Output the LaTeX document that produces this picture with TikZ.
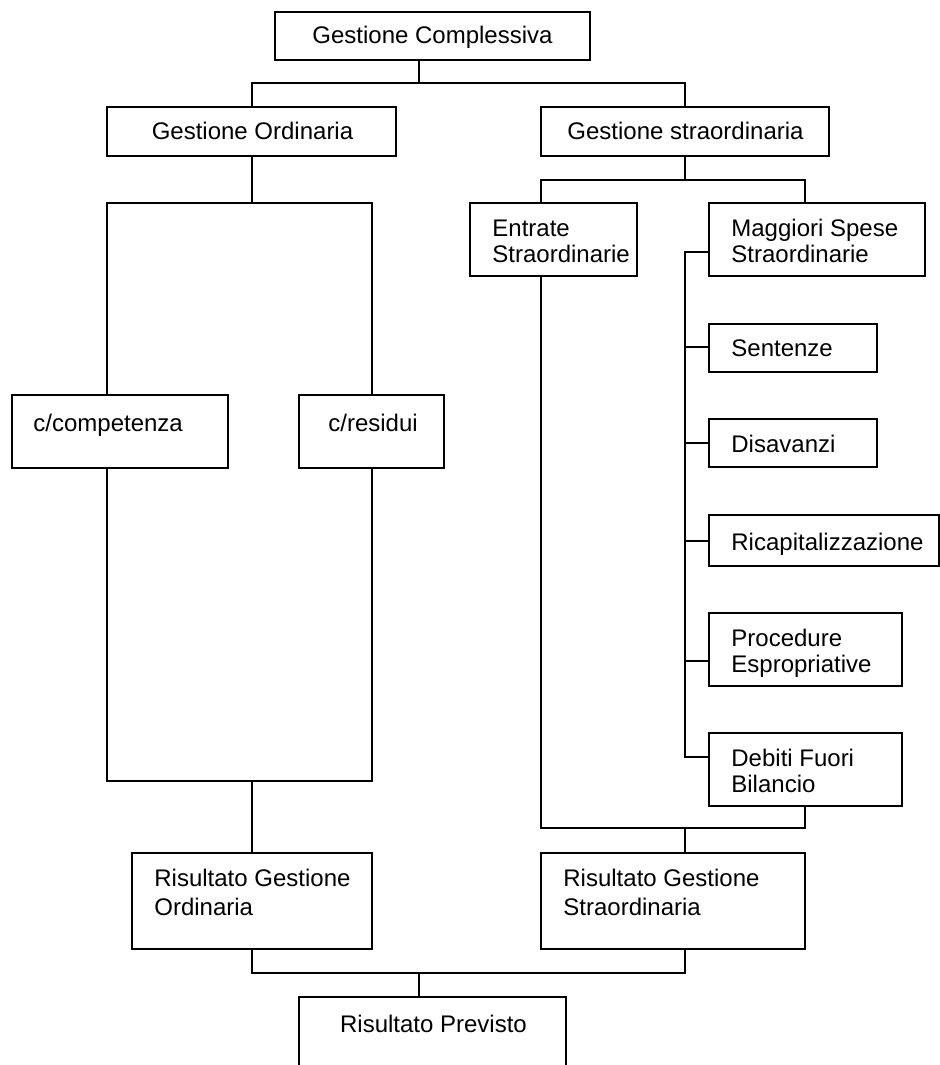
\documentclass[tikz,border=0pt]{standalone}
\usepackage{fontspec}
\setmainfont{Liberation Sans}
\newcommand\mybox[5]{\node[box, minimum width={(#4-#2)*0.5pt}, minimum height={(#5-#3)*0.5pt}] (#1) at ({(#2+#4)/2},{(#3+#5)/2}) {};}
\begin{document}
\begin{tikzpicture}[x=0.5pt,y=-0.5pt,
  box/.style={draw=black, line width=0.65pt, fill=white, inner sep=0pt, outer sep=0pt},
  lbl/.style={anchor=base west, inner sep=0pt, font=\fontsize{12pt}{13pt}\selectfont, align=left},
  lblw/.style={anchor=base west, inner sep=0pt, font=\fontsize{12pt}{14.5pt}\selectfont, align=left},
  lblc/.style={anchor=base, inner sep=0pt, font=\fontsize{12pt}{13pt}\selectfont},
  conn/.style={line width=0.65pt, line cap=rect}]
\useasboundingbox[fill=white] (0,0) rectangle (940,1065);
% boxes
\mybox{gc}{275}{12}{590}{60}
\mybox{go}{107}{107}{396}{156}
\mybox{gs}{541}{107}{829}{156}
\mybox{comp}{12}{395}{228}{468}
\mybox{res}{299}{395}{444}{468}
\mybox{ent}{470}{203}{637}{276}
\mybox{mag}{709}{203}{925}{276}
\mybox{sen}{709}{324}{877}{372}
\mybox{dis}{709}{419}{877}{467}
\mybox{ric}{709}{515}{939}{566}
\mybox{pro}{709}{613}{902}{686}
\mybox{deb}{709}{733}{902}{806}
\mybox{rgo}{132}{853}{372}{949}
\mybox{rgs}{541}{853}{805}{949}
\mybox{rp}{299}{997}{566}{1085}
% junction coordinates
\coordinate (j1) at (419,83);
\coordinate (ja) at (252,83);
\coordinate (jb) at (685,83);
\coordinate (rm) at (252,203);
\coordinate (r1) at (107,203);
\coordinate (r2) at (372,203);
\coordinate (r3) at (372,781);
\coordinate (r4) at (107,781);
\coordinate (rb) at (252,781);
\coordinate (jc) at (685,180);
\coordinate (jd) at (541,180);
\coordinate (je) at (805,180);
\coordinate (jf) at (541,828);
\coordinate (jg) at (805,828);
\coordinate (jh) at (685,828);
\coordinate (s1) at (685,252);
\coordinate (s2) at (685,347);
\coordinate (s3) at (685,443);
\coordinate (s4) at (685,541);
\coordinate (s5) at (685,661);
\coordinate (s6) at (685,757);
\coordinate (k1) at (252,973);
\coordinate (k2) at (685,973);
\coordinate (k3) at (419,973);
% connectors
\draw[conn] (j1 |- gc.south) -- (j1);
\draw[conn] (ja |- go.north) -- (ja) -- (jb) -- (jb |- gs.north);
\draw[conn] (rm |- go.south) -- (rm);
\draw[conn] (r1 |- comp.north) -- (r1) -- (r2) -- (r2 |- res.north);
\draw[conn] (r1 |- comp.south) -- (r4) -- (r3) -- (r3 |- res.south);
\draw[conn] (rb) -- (rb |- rgo.north);
\draw[conn] (jc |- gs.south) -- (jc);
\draw[conn] (jd |- ent.north) -- (jd) -- (je) -- (je |- mag.north);
\draw[conn] (jd |- ent.south) -- (jf) -- (jg) -- (je |- deb.south);
\draw[conn] (jh) -- (jh |- rgs.north);
\draw[conn] (s1 -| mag.west) -- (s1) -- (s6) -- (s6 -| deb.west);
\draw[conn] (s2) -- (s2 -| sen.west);
\draw[conn] (s3) -- (s3 -| dis.west);
\draw[conn, line width=1.1pt] (s4) -- (s4 -| ric.west);
\draw[conn] (s5) -- (s5 -| pro.west);
\draw[conn] (k1 |- rgo.south) -- (k1) -- (k2) -- (k2 |- rgs.south);
\draw[conn] (k3) -- (k3 |- rp.north);
% texts (multi-line labels are anchored at the baseline of their last line)
\node[lblc] (tgc) at (432.5,44) {Gestione Complessiva};
\node[lblc] (tgo) at (252.5,140) {Gestione Ordinaria};
\node[lblc] (tgs) at (685.5,140) {Gestione straordinaria};
\node[lbl] (tent) at (492,262) {Entrate\\Straordinarie};
\node[lbl] (tmag) at (731,262) {Maggiori Spese\\Straordinarie};
\node[lbl] (tsen) at (731,356) {Sentenze};
\node[lbl] (tdis) at (731,452) {Disavanzi};
\node[lbl] (tric) at (731,550) {Ricapitalizzazione};
\node[lbl] (tpro) at (731,672) {Procedure\\Espropriative};
\node[lbl] (tdeb) at (731,792) {Debiti Fuori\\Bilancio};
\node[lbl] (tcomp) at (33,431) {c/competenza};
\node[lbl] (tres) at (328,431) {c/residui};
\node[lblw] (trgo) at (154,915) {Risultato Gestione\\Ordinaria};
\node[lblw] (trgs) at (563,915) {Risultato Gestione\\Straordinaria};
\node[lblc] (trp) at (433.5,1032) {Risultato Previsto};
\end{tikzpicture}
\end{document}
